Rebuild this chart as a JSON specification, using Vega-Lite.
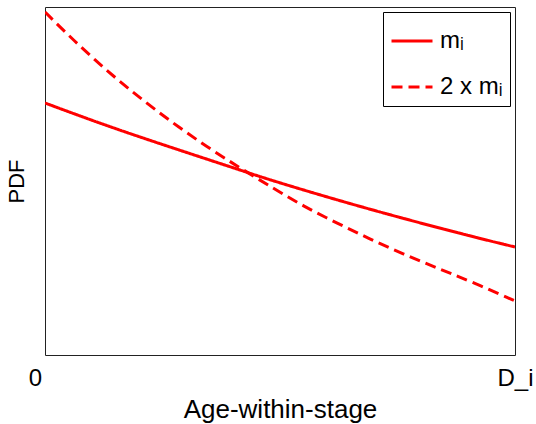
{
  "$schema": "https://vega.github.io/schema/vega-lite/v6.json",
  "width": 470,
  "height": 348,
  "autosize": {"type": "none"},
  "padding": {"left": 45, "top": 7, "right": 21, "bottom": 69},
  "config": {
    "font": "Liberation Sans",
    "view": {"stroke": "#222", "strokeWidth": 1},
    "background": "white"
  },
  "data": {
    "values": [
      {"x": 0.0, "y": 2.52, "series": "mᵢ"},
      {"x": 0.132, "y": 2.29, "series": "mᵢ"},
      {"x": 0.272, "y": 2.07, "series": "mᵢ"},
      {"x": 0.415, "y": 1.85, "series": "mᵢ"},
      {"x": 0.479, "y": 1.75, "series": "mᵢ"},
      {"x": 0.621, "y": 1.55, "series": "mᵢ"},
      {"x": 0.762, "y": 1.365, "series": "mᵢ"},
      {"x": 0.904, "y": 1.19, "series": "mᵢ"},
      {"x": 1.0, "y": 1.08, "series": "mᵢ"},
      {"x": 0.0, "y": 3.43, "series": "2 x mᵢ"},
      {"x": 0.06, "y": 3.15, "series": "2 x mᵢ"},
      {"x": 0.132, "y": 2.84, "series": "2 x mᵢ"},
      {"x": 0.202, "y": 2.57, "series": "2 x mᵢ"},
      {"x": 0.272, "y": 2.32, "series": "2 x mᵢ"},
      {"x": 0.345, "y": 2.08, "series": "2 x mᵢ"},
      {"x": 0.415, "y": 1.87, "series": "2 x mᵢ"},
      {"x": 0.485, "y": 1.67, "series": "2 x mᵢ"},
      {"x": 0.549, "y": 1.49, "series": "2 x mᵢ"},
      {"x": 0.621, "y": 1.32, "series": "2 x mᵢ"},
      {"x": 0.691, "y": 1.16, "series": "2 x mᵢ"},
      {"x": 0.762, "y": 1.01, "series": "2 x mᵢ"},
      {"x": 0.834, "y": 0.87, "series": "2 x mᵢ"},
      {"x": 0.904, "y": 0.74, "series": "2 x mᵢ"},
      {"x": 1.0, "y": 0.54, "series": "2 x mᵢ"}
    ]
  },
  "mark": {"type": "line", "color": "#ff0000", "strokeWidth": 3, "interpolate": "basis", "clip": true},
  "encoding": {
    "x": {
      "field": "x", "type": "quantitative",
      "scale": {"domain": [0, 1], "nice": false, "zero": false},
      "axis": {
        "values": [0, 1],
        "labelExpr": "datum.value == 0 ? '0' : 'D_i'",
        "domain": false, "ticks": false, "grid": false,
        "labelFontSize": 24, "labelColor": "#000", "labelPadding": 11,
        "labelOffset": {"condition": {"test": "datum.value == 0", "value": -10}, "value": 0},
        "labelFlush": false,
        "title": "Age-within-stage", "titleFontSize": 26, "titleFontWeight": "normal",
        "titleColor": "#000", "titlePadding": 6
      }
    },
    "y": {
      "field": "y", "type": "quantitative",
      "scale": {"domain": [0, 3.48], "nice": false, "zero": false},
      "axis": {
        "labels": false, "domain": false, "ticks": false, "grid": false,
        "title": "PDF", "titleFontSize": 22, "titleFontWeight": "normal",
        "titleColor": "#000", "titlePadding": 17
      }
    },
    "strokeDash": {
      "field": "series", "type": "nominal",
      "scale": {"domain": ["mᵢ", "2 x mᵢ"], "range": [[1, 0], [11, 6]]},
      "legend": {
        "title": null,
        "orient": "top-right",
        "offset": 5,
        "symbolType": "stroke",
        "symbolSize": 1681,
        "symbolStrokeWidth": 3,
        "symbolStrokeColor": "#ff0000",
        "labelFontSize": 24,
        "labelColor": "#000",
        "labelLimit": 200,
        "labelOffset": 6,
        "rowPadding": 12,
        "padding": 7,
        "strokeColor": "#000",
        "fillColor": "#fff",
        "cornerRadius": 0
      }
    }
  }
}
